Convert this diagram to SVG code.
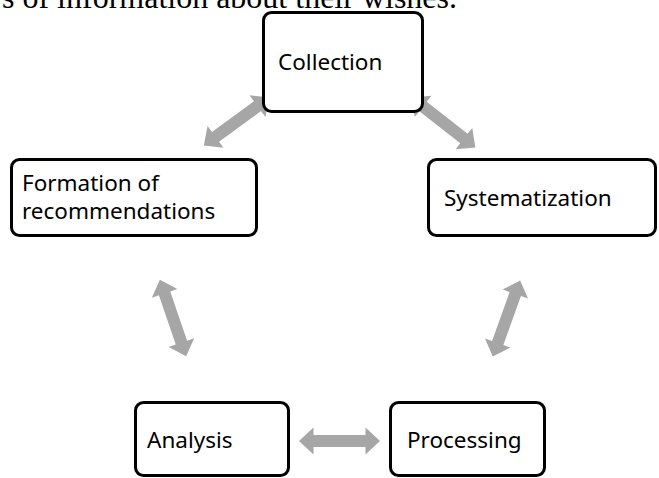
<svg xmlns="http://www.w3.org/2000/svg" width="659" height="478" viewBox="0 0 659 478">
<style>
.box{fill:#fff;stroke:#000;stroke-width:3}
.lbl{font-family:"Noto Sans","Open Sans",sans-serif;font-size:22.5px;fill:#000}
.top{font-family:"Liberation Serif","Times New Roman",serif;font-size:32px;fill:#000}
.arr{fill:#a6a6a6}
</style>
<defs>
<path id="dbl" d="M-40.5,0 L-26,-13.5 L-26,-6 L26,-6 L26,-13.5 L40.5,0 L26,13.5 L26,6 L-26,6 L-26,13.5 Z"/>
</defs>
<rect width="659" height="478" fill="#fff"/>
<text class="top" x="457" y="8" text-anchor="end">s of information about their wishes.</text>
<g id="connectors" class="arr">
<use href="#dbl" transform="translate(236.5,121.5) rotate(-36.2)"/>
<use href="#dbl" transform="translate(443.5,122.5) rotate(38.1)"/>
<use href="#dbl" transform="translate(173,318) rotate(71.1)"/>
<use href="#dbl" transform="translate(506.5,318.5) rotate(109.8)"/>
<use href="#dbl" transform="translate(339.5,441)"/>
</g>
<g id="collection">
<rect class="box" x="263.5" y="12.5" width="159" height="99" rx="8"/>
<text class="lbl" x="278" y="70">Collection</text>
</g>
<g id="formation">
<rect class="box" x="11.5" y="159.5" width="245" height="76" rx="8"/>
<text class="lbl" x="22" y="191">Formation of</text>
<text class="lbl" x="22" y="219">recommendations</text>
</g>
<g id="systematization">
<rect class="box" x="428.5" y="159.5" width="227" height="76" rx="8"/>
<text class="lbl" x="444" y="206">Systematization</text>
</g>
<g id="analysis">
<rect class="box" x="135.5" y="402.5" width="153" height="73" rx="8"/>
<text class="lbl" x="147" y="448">Analysis</text>
</g>
<g id="processing">
<rect class="box" x="390.5" y="402.5" width="154" height="73" rx="8"/>
<text class="lbl" x="407" y="448">Processing</text>
</g>
</svg>
